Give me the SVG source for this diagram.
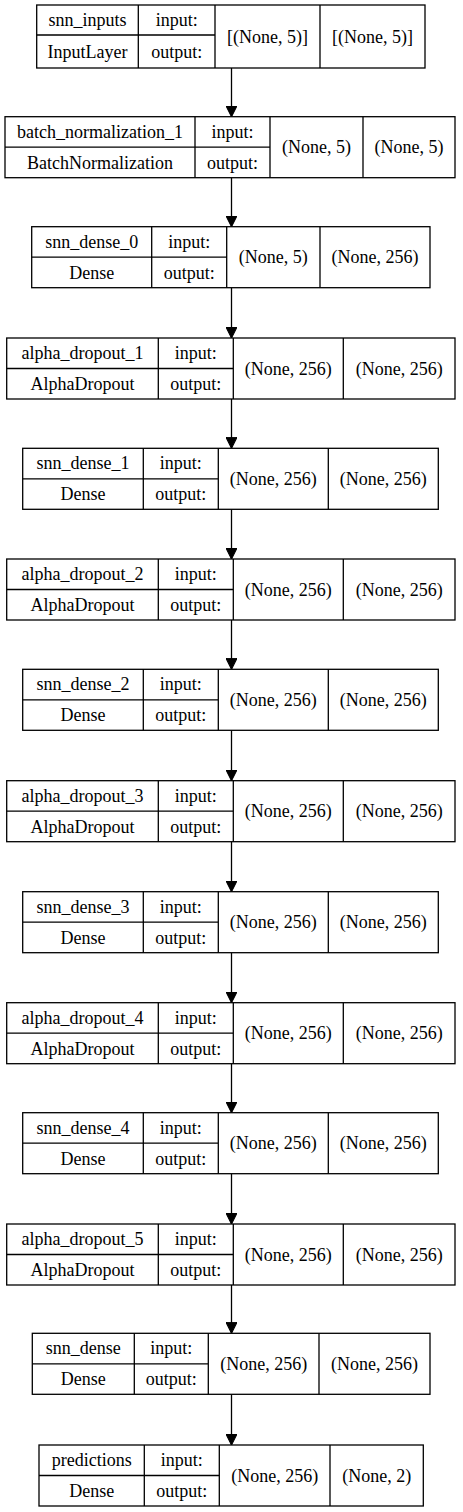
<svg xmlns="http://www.w3.org/2000/svg" width="463" height="1512" viewBox="0 0 463 1512">
<style>
.b{fill:#fff;stroke:#000;stroke-width:1.3}
.l{fill:none;stroke:#000;stroke-width:1.3}
</style>
<defs>
<marker id="ah" markerUnits="userSpaceOnUse" markerWidth="11" markerHeight="11" refX="10" refY="5" orient="auto" viewBox="0 0 10 10">
<path d="M0,0 L10,5 L0,10 z" fill="#000" stroke="#000" stroke-width="1"/>
</marker>
</defs>
<rect width="463" height="1512" fill="#fff"/>
<g id="connectors" stroke="#000" stroke-width="1.3" fill="none" marker-end="url(#ah)">
<line x1="231.5" y1="68" x2="231.5" y2="116.7"/>
<line x1="231.5" y1="177.7" x2="231.5" y2="226.7"/>
<line x1="231.5" y1="287.7" x2="231.5" y2="338"/>
<line x1="231.5" y1="399" x2="231.5" y2="448.3"/>
<line x1="231.5" y1="509.3" x2="231.5" y2="559"/>
<line x1="231.5" y1="620" x2="231.5" y2="669.3"/>
<line x1="231.5" y1="730.3" x2="231.5" y2="780.7"/>
<line x1="231.5" y1="841.7" x2="231.5" y2="891.7"/>
<line x1="231.5" y1="952.7" x2="231.5" y2="1002.7"/>
<line x1="231.5" y1="1063.7" x2="231.5" y2="1112.7"/>
<line x1="231.5" y1="1173.7" x2="231.5" y2="1224"/>
<line x1="231.5" y1="1285" x2="231.5" y2="1333.3"/>
<line x1="231.5" y1="1394.3" x2="231.5" y2="1445"/>
</g>
<g id="snn_inputs">
<rect class="b" x="36.7" y="5" width="388.3" height="63"/>
<path class="l" d="M138.3,5V68M215,5V68M320,5V68M36.7,35H215"/>
<text font-family="Liberation Serif" font-size="18" text-anchor="middle" x="87.5" y="26">snn_inputs</text>
<text font-family="Liberation Serif" font-size="18" text-anchor="middle" x="87.5" y="58">InputLayer</text>
<text font-family="Liberation Serif" font-size="18" text-anchor="middle" x="176.7" y="26">input:</text>
<text font-family="Liberation Serif" font-size="18" text-anchor="middle" x="176.7" y="58">output:</text>
<text font-family="Liberation Serif" font-size="18" text-anchor="middle" x="267.5" y="43">[(None, 5)]</text>
<text font-family="Liberation Serif" font-size="18" text-anchor="middle" x="372.5" y="43">[(None, 5)]</text>
</g>
<g id="batch_normalization_1">
<rect class="b" x="5" y="116.7" width="450" height="61"/>
<path class="l" d="M195,116.7V177.7M270,116.7V177.7M363,116.7V177.7M5,147.2H270"/>
<text font-family="Liberation Serif" font-size="18" text-anchor="middle" x="100" y="137.7">batch_normalization_1</text>
<text font-family="Liberation Serif" font-size="18" text-anchor="middle" x="100" y="168.7">BatchNormalization</text>
<text font-family="Liberation Serif" font-size="18" text-anchor="middle" x="232.5" y="137.7">input:</text>
<text font-family="Liberation Serif" font-size="18" text-anchor="middle" x="232.5" y="168.7">output:</text>
<text font-family="Liberation Serif" font-size="18" text-anchor="middle" x="316.5" y="153.2">(None, 5)</text>
<text font-family="Liberation Serif" font-size="18" text-anchor="middle" x="409" y="153.2">(None, 5)</text>
</g>
<g id="snn_dense_0">
<rect class="b" x="31.7" y="226.7" width="398.3" height="61"/>
<path class="l" d="M151.7,226.7V287.7M226.7,226.7V287.7M320,226.7V287.7M31.7,257.2H226.7"/>
<text font-family="Liberation Serif" font-size="18" text-anchor="middle" x="91.7" y="247.7">snn_dense_0</text>
<text font-family="Liberation Serif" font-size="18" text-anchor="middle" x="91.7" y="278.7">Dense</text>
<text font-family="Liberation Serif" font-size="18" text-anchor="middle" x="189.2" y="247.7">input:</text>
<text font-family="Liberation Serif" font-size="18" text-anchor="middle" x="189.2" y="278.7">output:</text>
<text font-family="Liberation Serif" font-size="18" text-anchor="middle" x="273.3" y="263.2">(None, 5)</text>
<text font-family="Liberation Serif" font-size="18" text-anchor="middle" x="375" y="263.2">(None, 256)</text>
</g>
<g id="alpha_dropout_1">
<rect class="b" x="6.7" y="338" width="448.3" height="61"/>
<path class="l" d="M158.3,338V399M233.3,338V399M343.3,338V399M6.7,368.5H233.3"/>
<text font-family="Liberation Serif" font-size="18" text-anchor="middle" x="82.5" y="359">alpha_dropout_1</text>
<text font-family="Liberation Serif" font-size="18" text-anchor="middle" x="82.5" y="390">AlphaDropout</text>
<text font-family="Liberation Serif" font-size="18" text-anchor="middle" x="195.8" y="359">input:</text>
<text font-family="Liberation Serif" font-size="18" text-anchor="middle" x="195.8" y="390">output:</text>
<text font-family="Liberation Serif" font-size="18" text-anchor="middle" x="288.3" y="374.5">(None, 256)</text>
<text font-family="Liberation Serif" font-size="18" text-anchor="middle" x="399.2" y="374.5">(None, 256)</text>
</g>
<g id="snn_dense_1">
<rect class="b" x="22.7" y="448.3" width="415.6" height="61"/>
<path class="l" d="M143.3,448.3V509.3M218.3,448.3V509.3M328.3,448.3V509.3M22.7,478.8H218.3"/>
<text font-family="Liberation Serif" font-size="18" text-anchor="middle" x="83" y="469.3">snn_dense_1</text>
<text font-family="Liberation Serif" font-size="18" text-anchor="middle" x="83" y="500.3">Dense</text>
<text font-family="Liberation Serif" font-size="18" text-anchor="middle" x="180.8" y="469.3">input:</text>
<text font-family="Liberation Serif" font-size="18" text-anchor="middle" x="180.8" y="500.3">output:</text>
<text font-family="Liberation Serif" font-size="18" text-anchor="middle" x="273.3" y="484.8">(None, 256)</text>
<text font-family="Liberation Serif" font-size="18" text-anchor="middle" x="383.3" y="484.8">(None, 256)</text>
</g>
<g id="alpha_dropout_2">
<rect class="b" x="6.7" y="559" width="448.3" height="61"/>
<path class="l" d="M158.3,559V620M233.3,559V620M343.3,559V620M6.7,589.5H233.3"/>
<text font-family="Liberation Serif" font-size="18" text-anchor="middle" x="82.5" y="580">alpha_dropout_2</text>
<text font-family="Liberation Serif" font-size="18" text-anchor="middle" x="82.5" y="611">AlphaDropout</text>
<text font-family="Liberation Serif" font-size="18" text-anchor="middle" x="195.8" y="580">input:</text>
<text font-family="Liberation Serif" font-size="18" text-anchor="middle" x="195.8" y="611">output:</text>
<text font-family="Liberation Serif" font-size="18" text-anchor="middle" x="288.3" y="595.5">(None, 256)</text>
<text font-family="Liberation Serif" font-size="18" text-anchor="middle" x="399.2" y="595.5">(None, 256)</text>
</g>
<g id="snn_dense_2">
<rect class="b" x="22.7" y="669.3" width="415.6" height="61"/>
<path class="l" d="M143.3,669.3V730.3M218.3,669.3V730.3M328.3,669.3V730.3M22.7,699.8H218.3"/>
<text font-family="Liberation Serif" font-size="18" text-anchor="middle" x="83" y="690.3">snn_dense_2</text>
<text font-family="Liberation Serif" font-size="18" text-anchor="middle" x="83" y="721.3">Dense</text>
<text font-family="Liberation Serif" font-size="18" text-anchor="middle" x="180.8" y="690.3">input:</text>
<text font-family="Liberation Serif" font-size="18" text-anchor="middle" x="180.8" y="721.3">output:</text>
<text font-family="Liberation Serif" font-size="18" text-anchor="middle" x="273.3" y="705.8">(None, 256)</text>
<text font-family="Liberation Serif" font-size="18" text-anchor="middle" x="383.3" y="705.8">(None, 256)</text>
</g>
<g id="alpha_dropout_3">
<rect class="b" x="6.7" y="780.7" width="448.3" height="61"/>
<path class="l" d="M158.3,780.7V841.7M233.3,780.7V841.7M343.3,780.7V841.7M6.7,811.2H233.3"/>
<text font-family="Liberation Serif" font-size="18" text-anchor="middle" x="82.5" y="801.7">alpha_dropout_3</text>
<text font-family="Liberation Serif" font-size="18" text-anchor="middle" x="82.5" y="832.7">AlphaDropout</text>
<text font-family="Liberation Serif" font-size="18" text-anchor="middle" x="195.8" y="801.7">input:</text>
<text font-family="Liberation Serif" font-size="18" text-anchor="middle" x="195.8" y="832.7">output:</text>
<text font-family="Liberation Serif" font-size="18" text-anchor="middle" x="288.3" y="817.2">(None, 256)</text>
<text font-family="Liberation Serif" font-size="18" text-anchor="middle" x="399.2" y="817.2">(None, 256)</text>
</g>
<g id="snn_dense_3">
<rect class="b" x="22.7" y="891.7" width="415.6" height="61"/>
<path class="l" d="M143.3,891.7V952.7M218.3,891.7V952.7M328.3,891.7V952.7M22.7,922.2H218.3"/>
<text font-family="Liberation Serif" font-size="18" text-anchor="middle" x="83" y="912.7">snn_dense_3</text>
<text font-family="Liberation Serif" font-size="18" text-anchor="middle" x="83" y="943.7">Dense</text>
<text font-family="Liberation Serif" font-size="18" text-anchor="middle" x="180.8" y="912.7">input:</text>
<text font-family="Liberation Serif" font-size="18" text-anchor="middle" x="180.8" y="943.7">output:</text>
<text font-family="Liberation Serif" font-size="18" text-anchor="middle" x="273.3" y="928.2">(None, 256)</text>
<text font-family="Liberation Serif" font-size="18" text-anchor="middle" x="383.3" y="928.2">(None, 256)</text>
</g>
<g id="alpha_dropout_4">
<rect class="b" x="6.7" y="1002.7" width="448.3" height="61"/>
<path class="l" d="M158.3,1002.7V1063.7M233.3,1002.7V1063.7M343.3,1002.7V1063.7M6.7,1033.2H233.3"/>
<text font-family="Liberation Serif" font-size="18" text-anchor="middle" x="82.5" y="1023.7">alpha_dropout_4</text>
<text font-family="Liberation Serif" font-size="18" text-anchor="middle" x="82.5" y="1054.7">AlphaDropout</text>
<text font-family="Liberation Serif" font-size="18" text-anchor="middle" x="195.8" y="1023.7">input:</text>
<text font-family="Liberation Serif" font-size="18" text-anchor="middle" x="195.8" y="1054.7">output:</text>
<text font-family="Liberation Serif" font-size="18" text-anchor="middle" x="288.3" y="1039.2">(None, 256)</text>
<text font-family="Liberation Serif" font-size="18" text-anchor="middle" x="399.2" y="1039.2">(None, 256)</text>
</g>
<g id="snn_dense_4">
<rect class="b" x="22.7" y="1112.7" width="415.6" height="61"/>
<path class="l" d="M143.3,1112.7V1173.7M218.3,1112.7V1173.7M328.3,1112.7V1173.7M22.7,1143.2H218.3"/>
<text font-family="Liberation Serif" font-size="18" text-anchor="middle" x="83" y="1133.7">snn_dense_4</text>
<text font-family="Liberation Serif" font-size="18" text-anchor="middle" x="83" y="1164.7">Dense</text>
<text font-family="Liberation Serif" font-size="18" text-anchor="middle" x="180.8" y="1133.7">input:</text>
<text font-family="Liberation Serif" font-size="18" text-anchor="middle" x="180.8" y="1164.7">output:</text>
<text font-family="Liberation Serif" font-size="18" text-anchor="middle" x="273.3" y="1149.2">(None, 256)</text>
<text font-family="Liberation Serif" font-size="18" text-anchor="middle" x="383.3" y="1149.2">(None, 256)</text>
</g>
<g id="alpha_dropout_5">
<rect class="b" x="6.7" y="1224" width="448.3" height="61"/>
<path class="l" d="M158.3,1224V1285M233.3,1224V1285M343.3,1224V1285M6.7,1254.5H233.3"/>
<text font-family="Liberation Serif" font-size="18" text-anchor="middle" x="82.5" y="1245">alpha_dropout_5</text>
<text font-family="Liberation Serif" font-size="18" text-anchor="middle" x="82.5" y="1276">AlphaDropout</text>
<text font-family="Liberation Serif" font-size="18" text-anchor="middle" x="195.8" y="1245">input:</text>
<text font-family="Liberation Serif" font-size="18" text-anchor="middle" x="195.8" y="1276">output:</text>
<text font-family="Liberation Serif" font-size="18" text-anchor="middle" x="288.3" y="1260.5">(None, 256)</text>
<text font-family="Liberation Serif" font-size="18" text-anchor="middle" x="399.2" y="1260.5">(None, 256)</text>
</g>
<g id="snn_dense">
<rect class="b" x="32.3" y="1333.3" width="397.7" height="61"/>
<path class="l" d="M134.3,1333.3V1394.3M208.3,1333.3V1394.3M319,1333.3V1394.3M32.3,1363.8H208.3"/>
<text font-family="Liberation Serif" font-size="18" text-anchor="middle" x="83.3" y="1354.3">snn_dense</text>
<text font-family="Liberation Serif" font-size="18" text-anchor="middle" x="83.3" y="1385.3">Dense</text>
<text font-family="Liberation Serif" font-size="18" text-anchor="middle" x="171.3" y="1354.3">input:</text>
<text font-family="Liberation Serif" font-size="18" text-anchor="middle" x="171.3" y="1385.3">output:</text>
<text font-family="Liberation Serif" font-size="18" text-anchor="middle" x="263.7" y="1369.8">(None, 256)</text>
<text font-family="Liberation Serif" font-size="18" text-anchor="middle" x="374.5" y="1369.8">(None, 256)</text>
</g>
<g id="predictions">
<rect class="b" x="39" y="1445" width="384.3" height="61"/>
<path class="l" d="M144.3,1445V1506M219.3,1445V1506M330,1445V1506M39,1475.5H219.3"/>
<text font-family="Liberation Serif" font-size="18" text-anchor="middle" x="91.7" y="1466">predictions</text>
<text font-family="Liberation Serif" font-size="18" text-anchor="middle" x="91.7" y="1497">Dense</text>
<text font-family="Liberation Serif" font-size="18" text-anchor="middle" x="181.8" y="1466">input:</text>
<text font-family="Liberation Serif" font-size="18" text-anchor="middle" x="181.8" y="1497">output:</text>
<text font-family="Liberation Serif" font-size="18" text-anchor="middle" x="274.7" y="1481.5">(None, 256)</text>
<text font-family="Liberation Serif" font-size="18" text-anchor="middle" x="376.7" y="1481.5">(None, 2)</text>
</g>
</svg>
